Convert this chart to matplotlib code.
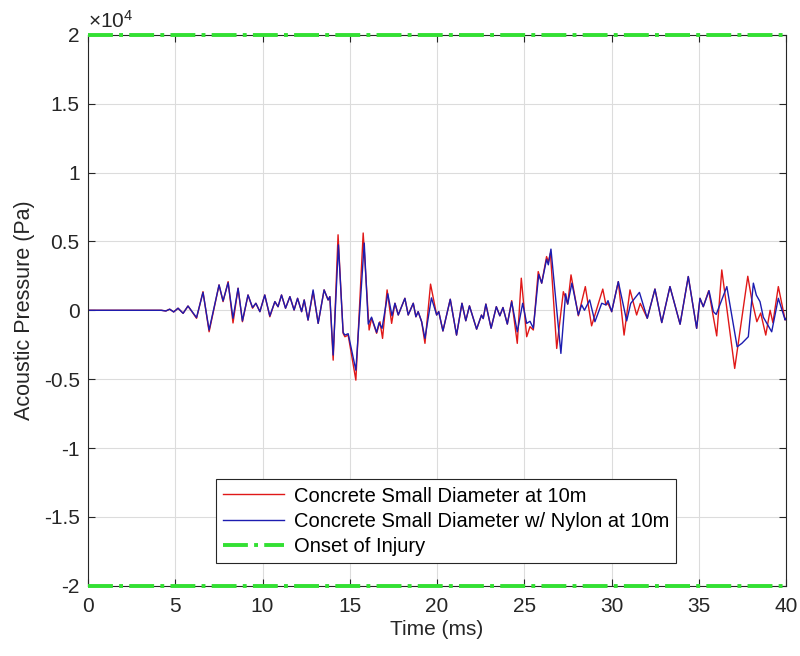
import numpy as np
import matplotlib
matplotlib.use("Agg")
import matplotlib.pyplot as plt

plt.rcParams["font.family"] = ["Liberation Sans", "DejaVu Sans"]
plt.rcParams["axes.unicode_minus"] = False
plt.rcParams["mathtext.default"] = "regular"

# ========================================
# data (time in ms, pressure in Pa)
# ========================================
t_red = [0, 4.2, 4.46, 4.68, 4.91, 5.16, 5.45, 5.73, 6.22, 6.59, 6.94, 7.51, 7.74, 8.03,
         8.31, 8.60, 8.85, 9.17, 9.43, 9.62, 9.85, 10.13, 10.42, 10.71, 10.89, 11.09,
         11.32, 11.57, 11.81, 12.01, 12.24, 12.39, 12.61, 12.90, 13.19, 13.53, 13.76,
         13.86, 14.05, 14.33, 14.62, 14.72, 14.91, 15.35, 15.77, 16.11, 16.25, 16.54,
         16.73, 16.88, 17.14, 17.40, 17.59, 17.78, 18.16, 18.35, 18.64, 18.79, 18.92,
         19.12, 19.31, 19.63, 19.98, 20.10, 20.34, 20.76, 21.12, 21.43, 21.65, 21.86,
         22.27, 22.55, 22.65, 22.80, 23.10, 23.40, 23.60, 23.78, 24.03, 24.28, 24.60,
         24.83, 25.14, 25.33, 25.52, 25.80, 26.00, 26.28, 26.38, 26.50, 26.86, 27.24,
         27.49, 27.68, 28.10, 28.50, 28.86, 29.50, 29.68, 29.80, 30.01, 30.39, 30.72,
         31.06, 31.44, 31.65, 32.05, 32.49, 32.88, 33.35, 33.93, 34.40, 34.88, 35.07,
         35.26, 35.57, 36.03, 36.32, 37.06, 37.81, 38.04, 38.33, 38.55, 38.84, 39.09,
         39.25, 39.56, 39.95, 40.0]
p_red = [0, 0, -50, 80, -120, 150, -220, 310, -580, 1350, -1560, 1840, 630, 2080,
         -920, 1600, -830, 1110, 150, 510, -100, 1110, -470, 630, 260, 1110,
         150, 990, 20, 870, -100, 750, -710, 1350, -950, 1480, 750,
         990, -3620, 5480, -1670, -1920, -1800, -5070, 5610, -1430, -580, -1670,
         -830, -2040, 1480, -950, 510, -340, 870, -340, 510, -470, -100,
         -830, -2400, 1900, -340, -100, -1500, 800, -1800, 510, -760, 320,
         -1370, -350, -600, 450, -1300, 260, -400, 200, -1000, 700, -2400,
         2330, -1920, -1190, -1430, 2810, 1970, 3900, 3500, 4150, -2770, 1350,
         450, 2570, -400, 1720, -1130, 1540, 390, 500, -100, 2080, -1800,
         1480, -340, 500, -580, 1540, -890, 1720, -1010, 2450, -1310, 870,
         260, 1420, -1860, 2930, -4220, 2470, 750, -830, -200, -1800, 0,
         -900, 1720, -700, -600]

t_blue = [0, 4.2, 4.46, 4.68, 4.91, 5.16, 5.45, 5.73, 6.22, 6.59, 6.94, 7.51, 7.74, 8.03,
          8.31, 8.60, 8.85, 9.17, 9.43, 9.62, 9.85, 10.13, 10.42, 10.71, 10.89, 11.09,
          11.32, 11.57, 11.81, 12.01, 12.24, 12.39, 12.61, 12.90, 13.19, 13.53, 13.76,
          13.86, 14.05, 14.35, 14.62, 14.72, 14.91, 15.35, 15.83, 16.06, 16.25, 16.54,
          16.68, 16.85, 17.18, 17.42, 17.59, 17.78, 18.16, 18.35, 18.64, 18.79, 18.92,
          19.12, 19.31, 19.68, 19.98, 20.10, 20.34, 20.76, 21.12, 21.43, 21.65, 21.86,
          22.27, 22.55, 22.65, 22.80, 23.10, 23.40, 23.60, 23.78, 24.03, 24.28, 24.60,
          24.91, 25.14, 25.33, 25.52, 25.83, 26.00, 26.28, 26.38, 26.53, 27.10, 27.37,
          27.49, 27.73, 28.10, 28.29, 28.45, 28.75, 29.05, 29.44, 29.68, 29.80, 30.01,
          30.39, 30.87, 31.10, 31.60, 32.05, 32.49, 32.88, 33.35, 33.93, 34.40, 34.88,
          35.07, 35.26, 35.59, 35.84, 36.00, 36.61, 37.20, 37.47, 37.84, 38.13, 38.30,
          38.51, 38.70, 39.18, 39.56, 39.95, 40.0]
p_blue = [0, 0, -50, 80, -120, 150, -220, 310, -530, 1300, -1430, 1840, 680, 2000,
          -580, 1600, -770, 1110, 200, 510, -100, 1110, -410, 630, 260, 1110,
          150, 990, 20, 870, -100, 750, -710, 1480, -950, 1480, 750,
          990, -3250, 4750, -1600, -1800, -1700, -4350, 4880, -1000, -500, -1600,
          -900, -1310, 1200, -400, 510, -340, 870, -340, 510, -470, -100,
          -830, -2040, 900, -340, -100, -1500, 800, -1800, 510, -760, 320,
          -1370, -350, -600, 450, -1300, 260, -400, 200, -1000, 620, -1560,
          510, -950, -800, -1300, 2600, 1970, 3700, 3300, 4440, -3130, 1200,
          450, 1970, -340, 390, 0, 750, -830, 510, 390, 700, -100,
          2080, -770, 500, 1300, -580, 1540, -890, 1720, -1010, 2450, -1310,
          870, 260, 1420, -100, -300, 1720, -2650, -2400, -1920, 1970, 1100,
          630, -500, -1560, 870, -700, -600]

injury_level = 2e4
x_ticks = [0, 5, 10, 15, 20, 25, 30, 35, 40]
y_ticks = [-2, -1.5, -1, -0.5, 0, 0.5, 1, 1.5, 2]
y_labels = ["-2", "-1.5", "-1", "-0.5", "0", "0.5", "1", "1.5", "2"]

############          plot  picture           #################################
fig = plt.figure(figsize=(8, 6.56), dpi=100)
ax = fig.add_axes([0.110, 0.107, 0.8725, 0.840])

ax.plot(t_red, p_red, color="#e01818", lw=1.0, label="Concrete Small Diameter at 10m")
ax.plot(t_blue, p_blue, color="#1c1cb0", lw=1.0,
        label="Concrete Small Diameter w/ Nylon at 10m")
ax.plot([0, 40], [injury_level, injury_level], color="#33e033", lw=2.8, ls="-.",
        label="Onset of Injury", clip_on=False, zorder=3)
ax.plot([0, 40], [-injury_level, -injury_level], color="#33e033", lw=2.8, ls="-.",
        clip_on=False, zorder=3)

ax.set_xlim(0, 40)
ax.set_ylim(-2.0e4, 2.0e4)
ax.set_xticks(x_ticks)
ax.set_yticks([v * 1e4 for v in y_ticks])
ax.set_yticklabels(y_labels)
ax.tick_params(direction="in", labelsize=15, colors="#262626", length=5,
               top=True, right=True)
ax.tick_params(axis="x", pad=8)
ax.tick_params(axis="y", pad=6)
ax.grid(True, color="#dcdcdc", lw=0.8)
ax.set_axisbelow(True)
for s in ax.spines.values():
    s.set_color("#262626")
    s.set_linewidth(0.8)

ax.text(0.0, 1.006, r"$\times10^{4}$", transform=ax.transAxes, fontsize=15,
        color="#262626", ha="left", va="bottom")
ax.set_xlabel("Time (ms)", fontsize=15, color="#262626", labelpad=3)
ax.set_ylabel("Acoustic Pressure (Pa)", fontsize=15.5, color="#262626", labelpad=6)

leg = ax.legend(loc="lower left", bbox_to_anchor=(0.184, 0.042), fontsize=14.5,
                handlelength=3.0, handletextpad=0.5, fancybox=False, framealpha=1,
                edgecolor="#262626", borderpad=0.35, labelspacing=0.3,
                borderaxespad=0)
leg.get_frame().set_linewidth(0.8)

plt.savefig("out.png", dpi=100)
